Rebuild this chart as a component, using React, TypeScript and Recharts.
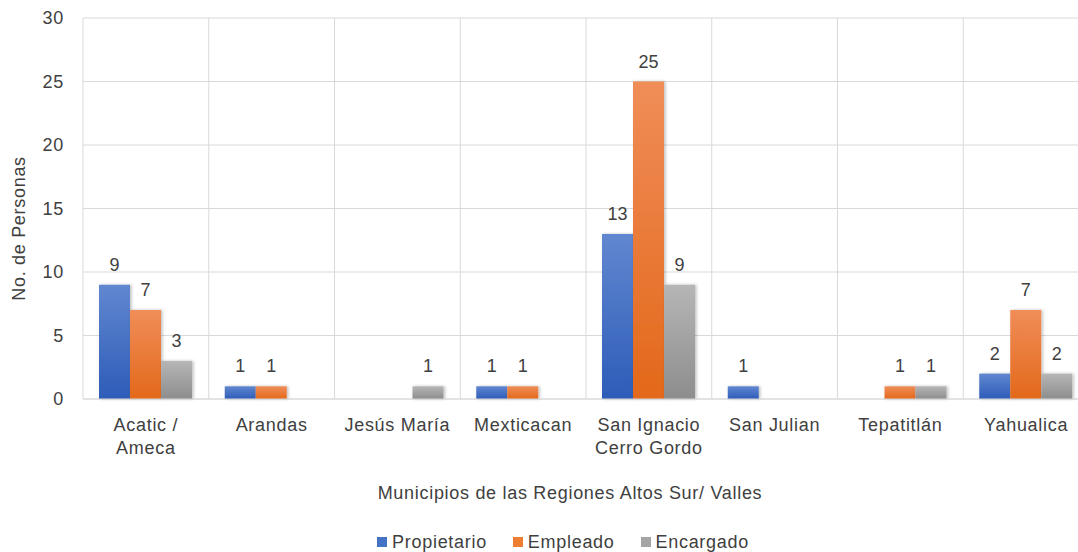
import { BarChart, Bar, XAxis, YAxis, CartesianGrid, Legend, LabelList } from 'recharts';

const municipios = [
  'Acatic /\nAmeca',
  'Arandas',
  'Jesús María',
  'Mexticacan',
  'San Ignacio\nCerro Gordo',
  'San Julian',
  'Tepatitlán',
  'Yahualica',
];
const propietario = [9, 1, 0, 1, 13, 1, 0, 2];
const empleado = [7, 1, 0, 1, 25, 0, 1, 7];
const encargado = [3, 0, 1, 0, 9, 0, 1, 2];
const yTicks = [0, 5, 10, 15, 20, 25, 30];

const series = [
  { key: 'propietario', name: 'Propietario', top: '#6187d0', bottom: '#2d5cb8', swatch: '#4472c4' },
  { key: 'empleado', name: 'Empleado', top: '#f08d58', bottom: '#e3681a', swatch: '#ed7d31' },
  { key: 'encargado', name: 'Encargado', top: '#b6b6b6', bottom: '#8d8d8d', swatch: '#a5a5a5' },
];

const data = municipios.map((m, i) => ({
  municipio: m,
  propietario: propietario[i],
  empleado: empleado[i],
  encargado: encargado[i],
}));

const FONT = '"Liberation Sans", Arial, sans-serif';
const TEXT = '#404040';
const FS = 18;
const LS = 0.7;

function CategoryTick(props: any) {
  const { x, y, payload } = props;
  const lines = String(payload.value).split('\n');
  return (
    <text x={x} y={y} textAnchor='middle' fill={TEXT} fontSize={FS} fontFamily={FONT} letterSpacing={LS}>
      {lines.map((l, i) => (
        <tspan key={i} x={x} dy={i === 0 ? 30 : 23}>
          {l}
        </tspan>
      ))}
    </text>
  );
}

function LegendBox() {
  return (
    <div
      style={{
        display: 'flex',
        justifyContent: 'center',
        alignItems: 'center',
        height: 24,
        paddingLeft: 48,
        position: 'relative',
        top: 2,
        fontFamily: FONT,
        fontSize: FS,
        letterSpacing: LS,
        color: TEXT,
      }}
    >
      {series.map((s) => (
        <div key={s.key} style={{ display: 'flex', alignItems: 'center', margin: '0 13px' }}>
          <span style={{ width: 10, height: 10, background: s.swatch, display: 'inline-block', marginRight: 5 }} />
          {s.name}
        </div>
      ))}
    </div>
  );
}

const hideZero = (v: any) => (v === 0 ? '' : v);

export default function App() {
  return (
    <div style={{ position: 'absolute', left: 0, top: 0, width: 1078, height: 552, overflow: 'hidden', background: '#fff' }}>
      <BarChart
        width={1100}
        height={552}
        data={data}
        margin={{ top: 18, right: 11, left: 0, bottom: 0 }}
        barGap={0}
        barSize={31}
      >
        <defs>
          {series.map((s) => (
            <linearGradient key={s.key} id={'g-' + s.key} x1='0' y1='0' x2='0' y2='1'>
              <stop offset='0%' stopColor={s.top} />
              <stop offset='100%' stopColor={s.bottom} />
            </linearGradient>
          ))}
          <filter id='shadow' x='-20%' y='-20%' width='140%' height='140%'>
            <feDropShadow dx='1.5' dy='0' stdDeviation='1.5' floodColor='#000' floodOpacity='0.25' />
          </filter>
        </defs>
        <CartesianGrid
          stroke='#d9d9d9'
          verticalCoordinatesGenerator={({ offset }: any) =>
            municipios.map((_, i) => offset.left + (i * offset.width) / municipios.length)
          }
        />
        <XAxis
          dataKey='municipio'
          interval={0}
          height={129}
          tickLine={false}
          tickSize={0}
          tickMargin={2}
          axisLine={{ stroke: '#d9d9d9' }}
          tick={<CategoryTick />}
          label={{
            value: 'Municipios de las Regiones Altos Sur/ Valles',
            position: 'insideBottom',
            offset: 29,
            dx: -16,
            fill: TEXT,
            fontSize: FS,
            fontFamily: FONT,
            letterSpacing: LS,
          }}
        />
        <YAxis
          width={83}
          domain={[0, 30]}
          ticks={yTicks}
          axisLine={false}
          tickLine={false}
          tickSize={0}
          tickMargin={19}
          tick={{ fill: TEXT, fontSize: FS, fontFamily: FONT, letterSpacing: LS }}
          label={{
            value: 'No. de Personas',
            angle: -90,
            position: 'center',
            dx: -23,
            dy: 20,
            fill: TEXT,
            fontSize: FS,
            fontFamily: FONT,
            letterSpacing: LS,
          }}
        />
        <Legend verticalAlign='bottom' content={<LegendBox />} wrapperStyle={{ left: 0, width: 1078 }} />
        {series.map((s) => (
          <Bar
            key={s.key}
            dataKey={s.key}
            name={s.name}
            fill={'url(#g-' + s.key + ')'}
            filter='url(#shadow)'
            isAnimationActive={false}
          >
            <LabelList
              dataKey={s.key}
              position='top'
              offset={14}
              formatter={hideZero}
              fill={TEXT}
              fontSize={FS}
              fontFamily={FONT}
            />
          </Bar>
        ))}
      </BarChart>
    </div>
  );
}
